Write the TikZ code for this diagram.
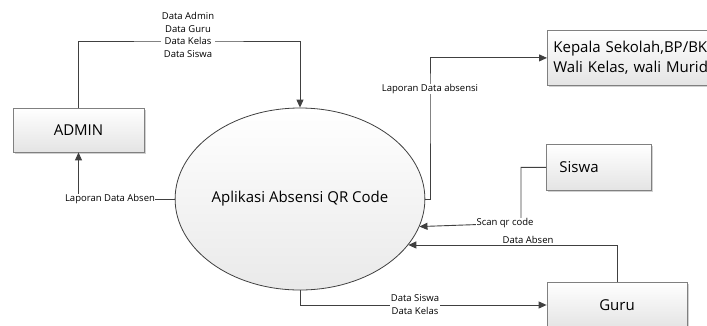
\documentclass[tikz,border=0pt]{standalone}
\usepackage{fontspec}
\setmainfont{Open Sans}
\usetikzlibrary{positioning,calc}
\usetikzlibrary{arrows.meta,shapes.geometric,shadows}
\definecolor{LineGray}{RGB}{64,64,64}
\definecolor{EdgeGray}{RGB}{128,128,128}
\definecolor{FillGray}{RGB}{228,228,228}
\tikzset{
  ent/.style={draw=EdgeGray,line width=0.8pt,top color=white,bottom color=FillGray,
    drop shadow={shadow xshift=2pt,shadow yshift=-2pt,fill=black!30,opacity=0.6},
    inner sep=0pt,font=\fontsize{15}{20}\selectfont},
  proc/.style={ellipse,draw=LineGray,line width=0.8pt,top color=white,bottom color=FillGray!80,
    inner sep=0pt,font=\fontsize{15}{20}\selectfont},
}
\tikzset{flow/.style={draw=LineGray,line width=0.9pt,-{Triangle[length=8pt,width=7pt]}}, lbl/.style={fill=white,inner sep=0.5pt,align=center,font=\fontsize{9.5}{12.5}\selectfont}}

\begin{document}
\begin{tikzpicture}[x=1pt,y=-1pt]
\useasboundingbox (0,0) rectangle (707,325);
\clip (0,0) rectangle (707,325);
\node[ent,minimum width=131pt,minimum height=44pt] (admin) at (78.5,130) {ADMIN};
\node[proc,minimum width=207pt,minimum height=182pt] (app) at (300,199) {Aplikasi Absensi QR Code};
\node[ent,anchor=north west,minimum height=55pt,text width=170pt,inner xsep=6pt,align=left] (kepala) at (547,30) {Kepala Sekolah,BP/BK,\\Wali Kelas, wali Murid};
\node[ent,anchor=north west,minimum height=46pt,text width=79pt,inner xsep=13pt,align=left] (siswa) at (546,144) {Siswa};
\node[ent,minimum width=140pt,minimum height=46pt] (guru) at (617,305) {Guru};
\coordinate (dataIn) at (188,41);
\coordinate (lapAbsensi) at (430,89);
\coordinate (scanBend) at (521,223);
\draw[flow] (admin.north) |- (dataIn) -| (app.north);
\draw[flow] (app.west) -| (admin.south);
\draw[flow] (app.east) -| (lapAbsensi) |- (kepala.west);
\draw[flow] (siswa.west) -| (scanBend) -- (app.-13.5);
\draw[flow] (guru.north) |- (app.-23.9);
\draw[flow] (app.south) |- (guru.west);
\node[lbl] (lblData) at (188,35) {Data Admin\\Data Guru\\Data Kelas\\Data Siswa};
\node[lbl] (lblAbsenAdmin) at (110,199) {Laporan Data Absen};
\node[lbl] (lblLaporan) at (lapAbsensi) {Laporan Data absensi};
\node[lbl] (lblScan) at (505,223) {Scan qr code};
\node[lbl] (lblAbsen) at (528,240) {Data Absen};
\node[lbl] (lblGuru) at (415,304.5) {Data Siswa\\Data Kelas};
\end{tikzpicture}
\end{document}
